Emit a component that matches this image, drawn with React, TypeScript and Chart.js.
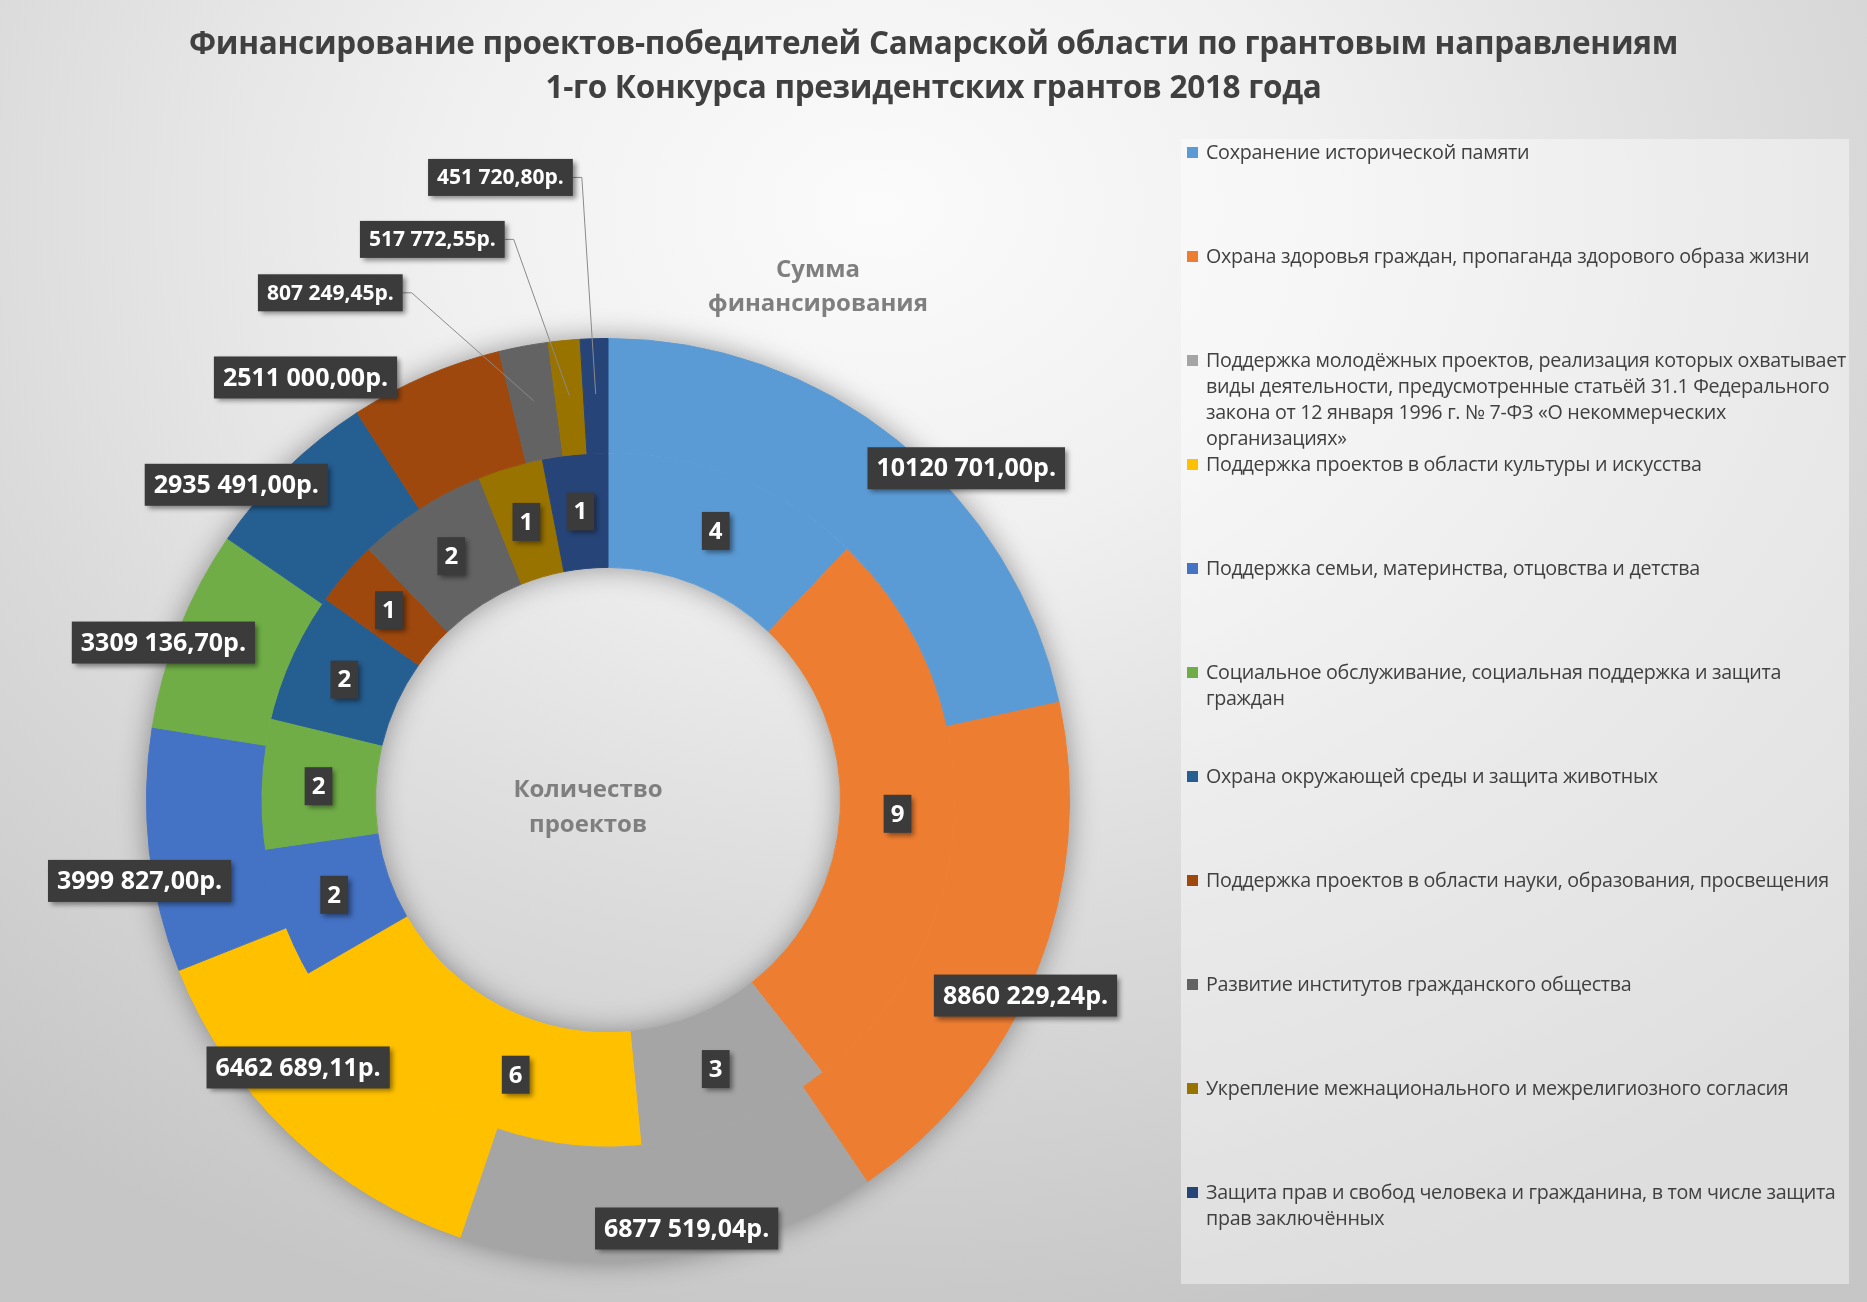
import React, { useEffect, useRef } from "react";
import { Chart, registerables } from "chart.js";

Chart.register(...registerables);

// ---------- DATA ----------
const titleLines = [
  "Финансирование проектов-победителей Самарской области по грантовым направлениям",
  "1-го Конкурса президентских грантов 2018 года",
];

const categories = [
  "Сохранение исторической памяти",
  "Охрана здоровья граждан, пропаганда здорового образа жизни",
  "Поддержка молодёжных проектов, реализация которых охватывает\nвиды деятельности, предусмотренные статьёй 31.1 Федерального\nзакона от 12 января 1996 г. № 7-ФЗ «О некоммерческих\nорганизациях»",
  "Поддержка проектов в области культуры и искусства",
  "Поддержка семьи, материнства, отцовства и детства",
  "Социальное обслуживание, социальная поддержка и защита\nграждан",
  "Охрана окружающей среды и защита животных",
  "Поддержка проектов в области науки, образования, просвещения",
  "Развитие институтов гражданского общества",
  "Укрепление межнационального и межрелигиозного согласия",
  "Защита прав и свобод человека и гражданина, в том числе защита\nправ заключённых",
];

const fundingValues = [
  10120701.0, 8860229.24, 6877519.04, 6462689.11, 3999827.0, 3309136.7,
  2935491.0, 2511000.0, 807249.45, 517772.55, 451720.8,
];

const projectCounts = [4, 9, 3, 6, 2, 2, 2, 1, 2, 1, 1];

const outerRingName = "Сумма\nфинансирования";
const innerRingName = "Количество\nпроектов";

// ---------- STYLE / LAYOUT ----------
const colors = [
  "#5B9BD5",
  "#ED7D31",
  "#A5A5A5",
  "#FFC000",
  "#4472C4",
  "#70AD47",
  "#255E91",
  "#9E480E",
  "#636363",
  "#997300",
  "#264478",
];

// label placement for the outer ring: [angle from 12 o'clock (deg), radius as fraction of outer radius]
const outerLabelPlacement: [number, number][] = [
  [47.2, 1.058],
  [115.1, 0.999],
  [169.6, 0.944],
  [229.2, 0.887],
  [260.2, 1.03],
  [289.5, 1.022],
  [310.3, 1.056],
  [324.4, 1.126],
  [331.3, 1.253],
  [342.6, 1.273],
  [350.2, 1.369],
];
const outerLabelLeader = [false, false, false, false, false, false, false, false, true, true, true];
// angular nudge (deg) of inner-ring labels away from the slice centre
const innerLabelAngleShift = [0, 0, 0, -8.7, 0, 0, 0, 0, 0, 0, 0];

const W = 1867;
const H = 1302;
const FONT = "'Open Sans', 'DejaVu Sans', sans-serif";

function formatRub(v: number): string {
  const cents = Math.round(v * 100);
  const intPart = Math.floor(cents / 100);
  const frac = String(cents % 100).padStart(2, "0");
  const s = String(intPart);
  const head = s.length > 3 ? s.slice(0, -3) + " " : "";
  return head + s.slice(-3) + "," + frac + "р.";
}

function drawBox(ctx: CanvasRenderingContext2D, text: string, x: number, y: number, size: number, padX: number, h: number) {
  ctx.save();
  ctx.font = `bold ${size}px ${FONT}`;
  const tw = ctx.measureText(text).width;
  const w = tw + padX * 2;
  ctx.shadowColor = "rgba(0,0,0,0.45)";
  ctx.shadowBlur = 5;
  ctx.shadowOffsetX = 3;
  ctx.shadowOffsetY = 3;
  ctx.fillStyle = "#3b3b3b";
  ctx.fillRect(x - w / 2, y - h / 2, w, h);
  ctx.shadowColor = "transparent";
  ctx.fillStyle = "#ffffff";
  ctx.textAlign = "center";
  ctx.textBaseline = "middle";
  ctx.fillText(text, x, y + 1);
  ctx.restore();
  return w;
}

const ringShadowPlugin = {
  id: "ringShadow",
  beforeDatasetsDraw(chart: any) {
    const outer = chart.getDatasetMeta(0).data[0];
    const inner = chart.getDatasetMeta(1).data[0];
    if (!outer || !inner) return;
    const ctx = chart.ctx as CanvasRenderingContext2D;
    const { x, y, outerRadius } = outer;
    const hole = inner.innerRadius;
    ctx.save();
    // clip to everything except the ring itself
    ctx.beginPath();
    ctx.rect(0, 0, chart.width, chart.height);
    ctx.arc(x, y, outerRadius, 0, Math.PI * 2);
    ctx.moveTo(x + hole, y);
    ctx.arc(x, y, hole, 0, Math.PI * 2);
    ctx.clip("evenodd");
    ctx.shadowColor = "rgba(0,0,0,0.38)";
    ctx.shadowBlur = 28;
    ctx.fillStyle = "#888888";
    ctx.beginPath();
    ctx.arc(x, y, outerRadius, 0, Math.PI * 2);
    ctx.moveTo(x + hole, y);
    ctx.arc(x, y, hole, 0, Math.PI * 2, true);
    ctx.fill();
    ctx.restore();
  },
};

const labelPlugin = {
  id: "boxLabels",
  afterDatasetsDraw(chart: any) {
    const ctx = chart.ctx as CanvasRenderingContext2D;
    const outerMeta = chart.getDatasetMeta(0);
    const innerMeta = chart.getDatasetMeta(1);
    const a0 = outerMeta.data[0];
    if (!a0) return;
    const cx = a0.x;
    const cy = a0.y;
    const R = a0.outerRadius;

    // inner ring labels (project counts)
    innerMeta.data.forEach((arc: any, i: number) => {
      const mid = (arc.startAngle + arc.endAngle) / 2 + (innerLabelAngleShift[i] * Math.PI) / 180;
      const r = (arc.innerRadius + arc.outerRadius) / 2;
      const px = cx + Math.cos(mid) * r;
      const py = cy + Math.sin(mid) * r;
      drawBox(ctx, String(projectCounts[i]), px, py, 24, 7, 38);
    });

    // outer ring labels (funding)
    outerMeta.data.forEach((arc: any, i: number) => {
      const [angDeg, rf] = outerLabelPlacement[i];
      const a = ((angDeg - 90) * Math.PI) / 180;
      const x = cx + Math.cos(a) * R * rf;
      const y = cy + Math.sin(a) * R * rf;
      const small = outerLabelLeader[i];
      const text = formatRub(fundingValues[i]);
      if (small) {
        ctx.save();
        ctx.font = `bold 21px ${FONT}`;
        const w = ctx.measureText(text).width + 18;
        const mid = (arc.startAngle + arc.endAngle) / 2;
        const ex = cx + Math.cos(mid) * R * 0.88;
        const ey = cy + Math.sin(mid) * R * 0.88;
        ctx.strokeStyle = "#8a8a8a";
        ctx.lineWidth = 1;
        ctx.beginPath();
        ctx.moveTo(x + w / 2, y);
        ctx.lineTo(x + w / 2 + 9, y);
        ctx.lineTo(ex, ey);
        ctx.stroke();
        ctx.restore();
        drawBox(ctx, text, x, y, 21, 9, 37);
      } else {
        drawBox(ctx, text, x, y, 25, 9, 42);
      }
    });
  },
};

export default function App() {
  const canvasRef = useRef<HTMLCanvasElement | null>(null);

  useEffect(() => {
    if (!canvasRef.current) return;
    const chart = new Chart(canvasRef.current, {
      type: "doughnut",
      data: {
        labels: categories,
        datasets: [
          {
            label: outerRingName,
            data: fundingValues,
            backgroundColor: colors,
            borderColor: colors,
            borderWidth: 1,
          },
          {
            label: innerRingName,
            data: projectCounts,
            backgroundColor: colors,
            borderColor: colors,
            borderWidth: 1,
          },
        ],
      },
      options: {
        responsive: false,
        animation: false,
        cutout: "50.4%",
        layout: { padding: { left: 146, top: 338, right: 797, bottom: 40 } },
        plugins: {
          legend: { display: false },
          tooltip: { enabled: false },
          title: { display: false },
        },
      },
      plugins: [ringShadowPlugin, labelPlugin],
    });
    return () => chart.destroy();
  }, []);

  return (
    <div
      style={{
        position: "absolute",
        left: 0,
        top: 0,
        width: W,
        height: H,
        overflow: "hidden",
        background:
          "radial-gradient(ellipse 78% 88% at 47% 16%, #fbfbfb 0%, #f0f0f0 30%, #dadada 65%, #c6c6c6 100%)",
        fontFamily: FONT,
      }}
    >
      <canvas ref={canvasRef} width={W} height={H} style={{ position: "absolute", left: 0, top: 0 }} />
      <div
        style={{
          position: "absolute",
          left: 0,
          top: 20,
          width: W,
          textAlign: "center",
          fontWeight: 700,
          fontSize: 31.5,
          lineHeight: "44px",
          color: "#404040",
          letterSpacing: "-0.3px",
        }}
      >
        {titleLines.map((t, i) => (
          <div key={i}>{t}</div>
        ))}
      </div>
      <div
        style={{
          position: "absolute",
          left: 818 - 150,
          top: 251,
          width: 300,
          textAlign: "center",
          fontWeight: 700,
          fontSize: 24,
          lineHeight: "34px",
          color: "#7f7f7f",
          whiteSpace: "pre-line",
        }}
      >
        {outerRingName}
      </div>
      <div
        style={{
          position: "absolute",
          left: 588 - 150,
          top: 770,
          width: 300,
          textAlign: "center",
          fontWeight: 700,
          fontSize: 24,
          lineHeight: "35px",
          color: "#7f7f7f",
          whiteSpace: "pre-line",
        }}
      >
        {innerRingName}
      </div>
      <div
        style={{
          position: "absolute",
          left: 1181,
          top: 139,
          width: 668,
          height: 1145,
          background: "rgba(255,255,255,0.42)",
        }}
      >
        {categories.map((c, i) => (
          <div key={i} style={{ position: "relative", height: 104 }}>
            <div
              style={{
                position: "absolute",
                left: 6,
                top: 8,
                width: 11,
                height: 11,
                background: colors[i],
              }}
            />
            <div
              style={{
                position: "absolute",
                left: 25,
                top: 0,
                fontSize: 19.7,
                lineHeight: "26px",
                color: "#404040",
                whiteSpace: "pre",
                letterSpacing: "-0.3px",
              }}
            >
              {c}
            </div>
          </div>
        ))}
      </div>
    </div>
  );
}
